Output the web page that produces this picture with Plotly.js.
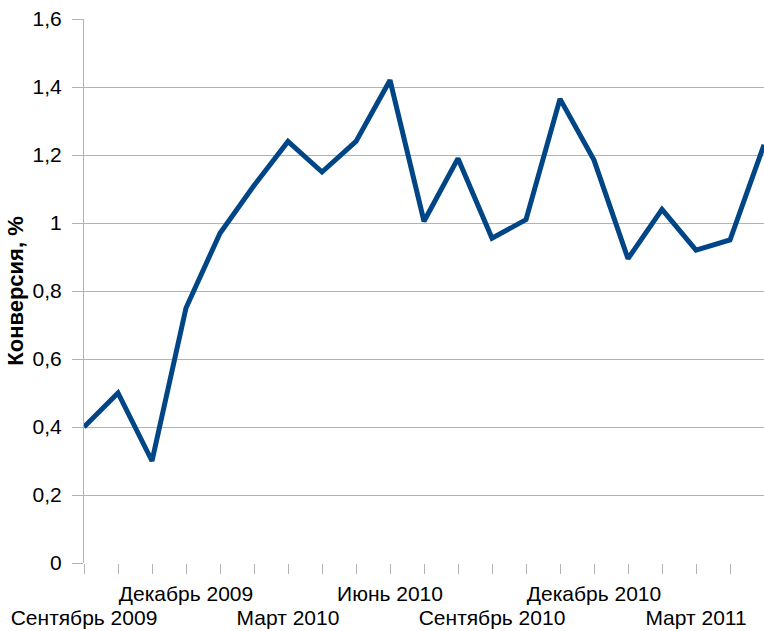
<!DOCTYPE html>
<html>
<head>
<meta charset="utf-8">
<script src="https://cdn.plot.ly/plotly-3.0.1.min.js"></script>
<style>html,body{margin:0;padding:0;background:#fff;}#chart{width:764px;height:631px;}</style>
</head>
<body>
<div id="chart"></div>
<script>
// Months Sep 2009 .. May 2011
const monthIndex = [0,1,2,3,4,5,6,7,8,9,10,11,12,13,14,15,16,17,18,19,20];
const conversion = [0.40,0.50,0.30,0.75,0.97,1.11,1.24,1.15,1.24,1.42,1.005,1.19,0.955,1.01,1.365,1.185,0.895,1.04,0.92,0.95,1.23];
const tickLabels = [
  'Сентябрь 2009','','','Декабрь 2009','','','Март 2010','','',
  'Июнь 2010','','','Сентябрь 2010','','','Декабрь 2010','','',
  'Март 2011','',''
];
// staggered rows: upper row and lower row of month labels
const upperRowIdx = [3, 9, 15];
const lowerRowIdx = [0, 6, 12, 18];
const upperRowText = upperRowIdx.map(i => tickLabels[i]);
const lowerRowText = lowerRowIdx.map(i => tickLabels[i]);
const yTicks = [0,0.2,0.4,0.6,0.8,1,1.2,1.4,1.6];
const yTickText = ['0','0,2','0,4','0,6','0,8','1','1,2','1,4','1,6'];

const trace = {
  x: monthIndex,
  y: conversion,
  type: 'scatter',
  mode: 'lines',
  line: {color: '#004586', width: 5},
  hoverinfo: 'skip'
};
// invisible helper trace so the second x axis (lower label row) is drawn
const helper = {
  x: [monthIndex[0], monthIndex[monthIndex.length - 1]],
  y: [null, null],
  xaxis: 'x2', yaxis: 'y',
  type: 'scatter', mode: 'lines',
  hoverinfo: 'skip', showlegend: false
};

const layout = {
  width: 764, height: 631,
  margin: {l: 84, r: 0, t: 19, b: 68},
  paper_bgcolor: '#fff', plot_bgcolor: '#fff',
  showlegend: false,
  font: {family: 'Liberation Sans, Arial, sans-serif', size: 21, color: '#000'},
  xaxis: {
    range: [0, 20],
    tickmode: 'array',
    tickvals: monthIndex,
    ticktext: monthIndex.map(i => upperRowIdx.includes(i) ? tickLabels[i] : ''),
    ticks: 'outside', ticklen: 10, tickcolor: '#b3b3b3', tickwidth: 1,
    showgrid: false, zeroline: false,
    showline: false,
    tickangle: 0,
    ticklabelstandoff: 2,
    tickfont: {size: 21}
  },
  xaxis2: {
    range: [0, 20],
    overlaying: 'x', anchor: 'y', side: 'bottom',
    tickmode: 'array',
    tickvals: lowerRowIdx,
    ticktext: lowerRowText,
    ticks: '', showgrid: false, zeroline: false, showline: false,
    tickangle: 0,
    ticklabelstandoff: 40,
    tickfont: {size: 21}
  },
  yaxis: {
    range: [0, 1.6],
    tickmode: 'array',
    tickvals: yTicks,
    ticktext: yTickText,
    ticks: 'outside', ticklen: 11, tickcolor: '#b3b3b3', tickwidth: 1,
    showgrid: true, gridcolor: '#b3b3b3', gridwidth: 1,
    zeroline: false,
    showline: true, linecolor: '#b3b3b3', linewidth: 1,
    ticklabelstandoff: 6,
    tickfont: {size: 21},
    title: {text: '<b>Конверсия, %</b>', font: {size: 22}, standoff: 2}
  }
};

Plotly.newPlot('chart', [trace, helper], layout, {displayModeBar: false, staticPlot: true});
</script>
</body>
</html>
